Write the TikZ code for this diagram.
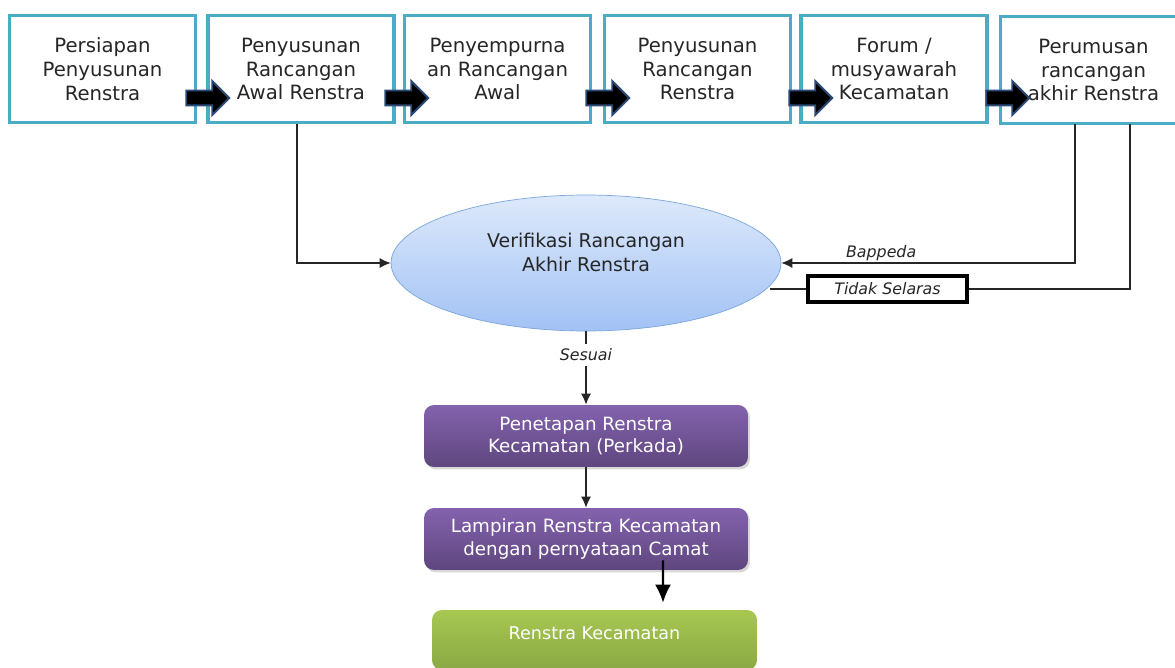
\documentclass[tikz,border=0pt]{standalone}
\usepackage{fontspec}
\setmainfont{DejaVu Sans}
\usetikzlibrary{shapes.geometric,shapes.arrows,shadows,arrows.meta}

\definecolor{garistahap}{HTML}{4BACC6}
\definecolor{teks}{HTML}{262626}
\definecolor{garispanah}{HTML}{2C4A78}
\definecolor{elipatas}{HTML}{DDE9FB}
\definecolor{elipbawah}{HTML}{A2C2F5}
\definecolor{garishelip}{HTML}{7BA6DC}
\definecolor{unguatas}{HTML}{8462AE}
\definecolor{ungubawah}{HTML}{5E467E}
\definecolor{hijauatas}{HTML}{A8C752}
\definecolor{hijaubawah}{HTML}{89A944}

\tikzset{
	tahap/.style={draw=garistahap, line width=1.9pt, fill=white, minimum width=3.72cm, minimum height=2.14cm, align=center, text=teks, font=\fontsize{11.2}{13.6}\selectfont},
	panah/.style={single arrow, draw=garispanah, fill=black, line width=1.1pt, minimum height=0.86cm, inner sep=0.13cm, single arrow head extend=0.19cm, single arrow tip angle=90},
	verifikasi/.style={ellipse, draw=garishelip, top color=elipatas, bottom color=elipbawah, minimum width=7.8cm, minimum height=2.72cm},
	ungu/.style={rounded corners=0.2cm, top color=unguatas, bottom color=ungubawah, text=white, minimum width=6.48cm, minimum height=1.24cm, align=center, font=\fontsize{10.4}{12.8}\selectfont, drop shadow={opacity=0.3, shadow xshift=0.04cm, shadow yshift=-0.05cm}},
	hijau/.style={rounded corners=0.2cm, top color=hijauatas, bottom color=hijaubawah, minimum width=6.5cm, minimum height=1.2cm},
	penghubung/.style={draw=black!85, line width=0.7pt},
	keterangan/.style={font=\fontsize{9}{10}\itshape\selectfont, text=teks},
	kepala/.style={-{Latex[length=2.2mm,width=2mm]}},
}

\begin{document}
\begin{tikzpicture}[x=0.02cm, y=-0.02cm]
	\clip (0,0) rectangle (1175,668);
	\fill[white] (0,0) rectangle (1175,668);

	% tahapan atas
	\node[tahap] (persiapan) at (102.5,69) {Persiapan\\Penyusunan\\Renstra};
	\node[tahap] (rancawal) at (301,69) {Penyusunan\\Rancangan\\Awal Renstra};
	\node[tahap] (sempurna) at (497.5,69) {Penyempurna\\an Rancangan\\Awal};
	\node[tahap] (rancangan) at (697.5,69) {Penyusunan\\Rancangan\\Renstra};
	\node[tahap] (forum) at (894,69) {Forum /\\musyawarah\\Kecamatan};
	\node[tahap] (rumusan) at (1093.5,70) {Perumusan\\rancangan\\akhir Renstra};

	\node[panah] (panahsatu) at (204,98) {};
	\node[panah] (panahdua) at (403,98) {};
	\node[panah] (panahtiga) at (604,98) {};
	\node[panah] (panahempat) at (807,98) {};
	\node[panah] (panahlima) at (1004,98) {};

	% verifikasi
	\node[verifikasi] (verif) at (586,263) {};
	\node[align=center, text=teks, font=\fontsize{10.8}{13.6}\selectfont] (verifteks) at (586,252) {Verifikasi Rancangan\\Akhir Renstra};

	\coordinate (bappeda) at (1075,124);
	\coordinate (selaras) at (1130,124);
	\node[draw, line width=1.8pt, fill=white, minimum width=3.18cm, minimum height=0.52cm, inner sep=0pt, keterangan] (tidak) at (887.5,289) {Tidak Selaras};

	\draw[penghubung,kepala] (rancawal.south -| 297,0) |- (verif.west);
	\draw[penghubung,kepala] (bappeda) |- node[pos=0.83, above, inner sep=1pt, keterangan] (lblbappeda) {Bappeda} (verif.east);
	\draw[penghubung] (selaras) |- (tidak.east);
	\draw[penghubung] (tidak.west) -- (tidak.west -| verif.-7.5);

	% penetapan
	\node[ungu] (penetapan) at (586,436) {Penetapan Renstra\\Kecamatan (Perkada)};
	\node[ungu] (lampiran) at (586,539) {Lampiran Renstra Kecamatan\\dengan pernyataan Camat};
	\node[hijau] (renstra) at (594.5,640) {};
	\node[text=white, font=\fontsize{10}{12}\selectfont] (renstrateks) at (594.5,633) {Renstra Kecamatan};

	\node[fill=white, keterangan, minimum width=2.4cm, minimum height=0.44cm, inner sep=0pt] (sesuai) at (586,355) {Sesuai};
	\draw[penghubung] (verif.south) -- (sesuai.north);
	\draw[penghubung,kepala] (sesuai.south) -- (penetapan.north);
	\draw[penghubung,kepala] (penetapan.south) -- (lampiran.north);
	\draw[line width=1.2pt,-{Latex[length=3.6mm,width=3.2mm]}] ([xshift=1.54cm,yshift=0.2cm]lampiran.south) -- ([xshift=1.37cm,yshift=0.14cm]renstra.north);
\end{tikzpicture}
\end{document}
